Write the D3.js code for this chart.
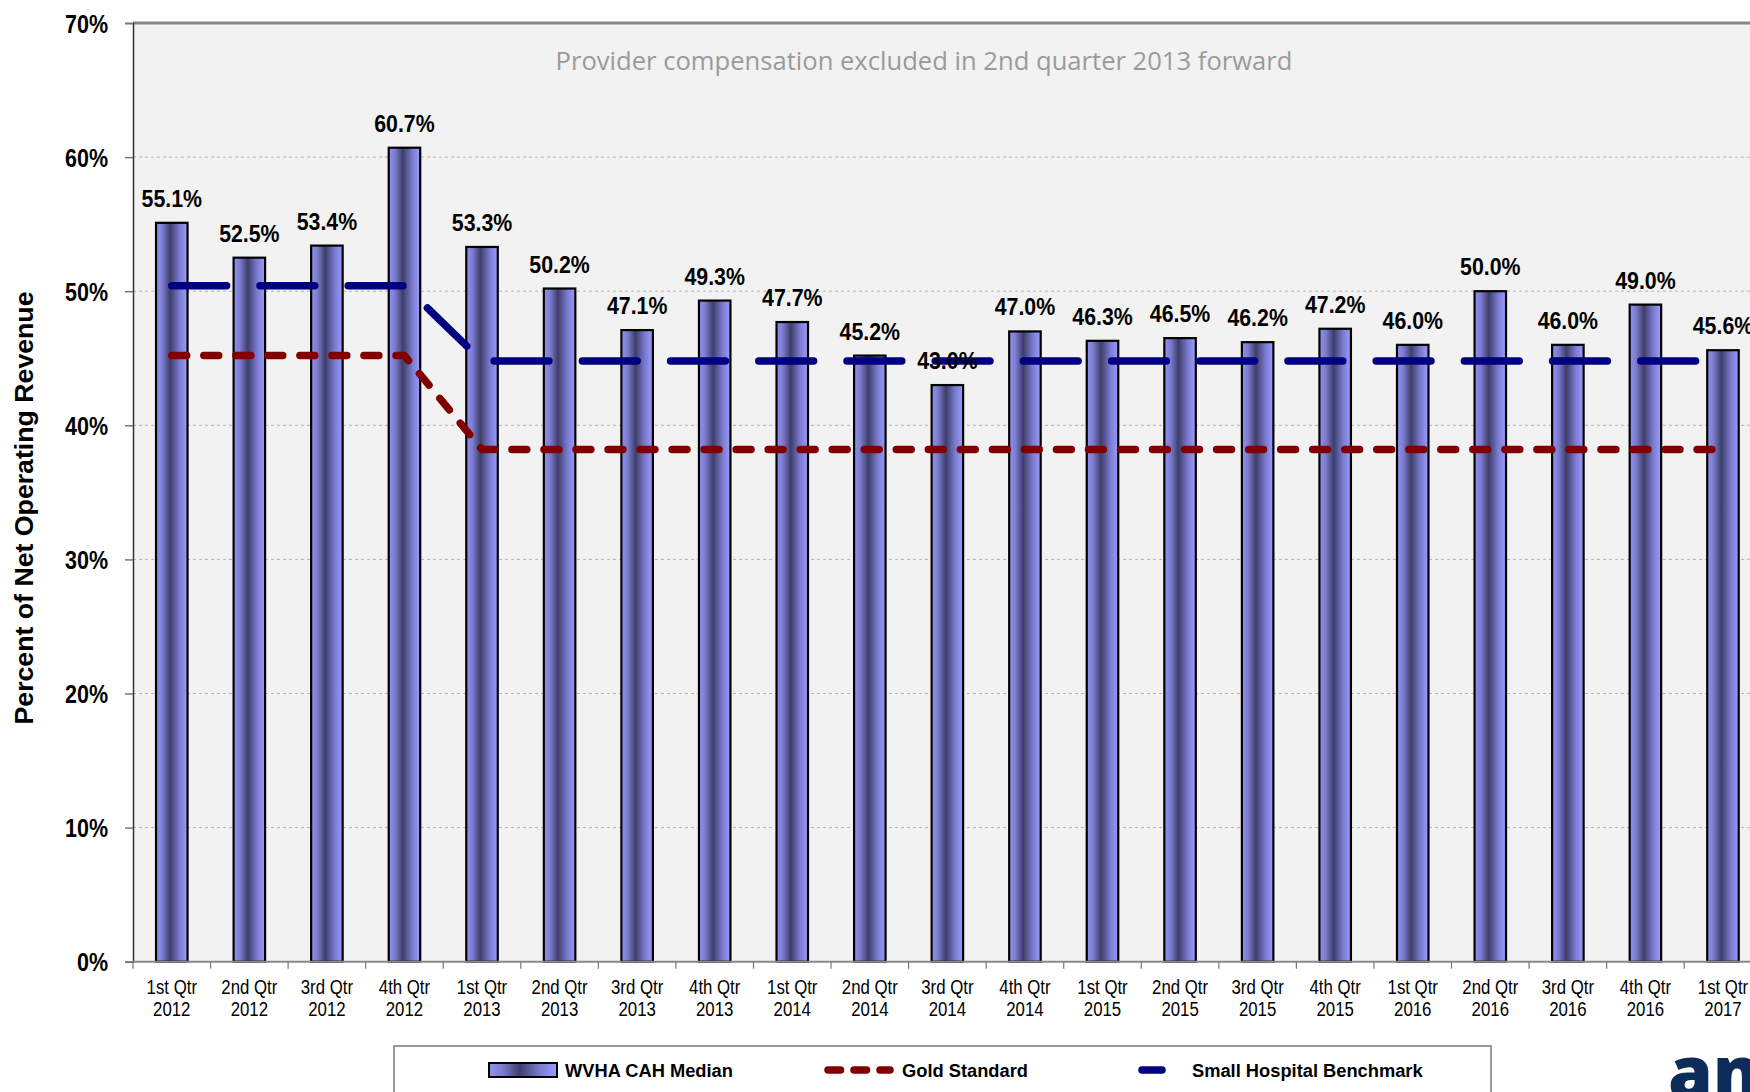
<!DOCTYPE html>
<html>
<head>
<meta charset="utf-8">
<script src="https://cdn.jsdelivr.net/npm/d3@7"></script>
<style>
  html, body { margin: 0; padding: 0; background: #ffffff; overflow: hidden; }
  svg { display: block; }
</style>
</head>
<body>
<svg id="chart" width="1750" height="1092"></svg>
<script>
// Quarterly periods shown on the x axis (two-line labels)
const quarters = ["1st Qtr", "2nd Qtr", "3rd Qtr", "4th Qtr", "1st Qtr", "2nd Qtr", "3rd Qtr", "4th Qtr",
                  "1st Qtr", "2nd Qtr", "3rd Qtr", "4th Qtr", "1st Qtr", "2nd Qtr", "3rd Qtr", "4th Qtr",
                  "1st Qtr", "2nd Qtr", "3rd Qtr", "4th Qtr", "1st Qtr"];
const years = ["2012", "2012", "2012", "2012", "2013", "2013", "2013", "2013",
               "2014", "2014", "2014", "2014", "2015", "2015", "2015", "2015",
               "2016", "2016", "2016", "2016", "2017"];

// WVHA CAH Median (percent of net operating revenue)
const median = [55.1, 52.5, 53.4, 60.7, 53.3, 50.2, 47.1, 49.3, 47.7, 45.2, 43.0,
                47.0, 46.3, 46.5, 46.2, 47.2, 46.0, 50.0, 46.0, 49.0, 45.6];
// Gold Standard
const gold = [45.2, 45.2, 45.2, 45.2, 38.2, 38.2, 38.2, 38.2, 38.2, 38.2, 38.2,
              38.2, 38.2, 38.2, 38.2, 38.2, 38.2, 38.2, 38.2, 38.2, 38.2];
// Small Hospital Benchmark
const benchmark = [50.4, 50.4, 50.4, 50.4, 44.8, 44.8, 44.8, 44.8, 44.8, 44.8, 44.8,
                   44.8, 44.8, 44.8, 44.8, 44.8, 44.8, 44.8, 44.8, 44.8, 44.8];

const yTicks = [0, 10, 20, 30, 40, 50, 60, 70];
const seriesNames = ["WVHA CAH Median", "Gold Standard", "Small Hospital Benchmark"];
const note = "Provider compensation excluded in 2nd quarter 2013 forward";
const yTitle = "Percent of Net Operating Revenue";

const categories = quarters.map((q, i) => i);

const svg = d3.select("#chart");
const W = 1750, H = 1092;

const plotLeft = 133, plotTop = 23, plotBottom = 961.7;
const step = 77.56;
const plotRight = plotLeft + step * categories.length;

const x = d3.scaleBand()
  .domain(categories)
  .range([plotLeft, plotRight])
  .paddingInner(0.594)
  .paddingOuter(0.297);

const y = d3.scaleLinear().domain([0, 70]).range([plotBottom, plotTop]);
const cx = i => x(i) + x.bandwidth() / 2;

const SANS = "'Liberation Sans', Arial, sans-serif";
// Condensed text: regular sans squeezed horizontally
const narrow = (sel, sx) => sel.attr("transform", function (d) {
  return `translate(${this.__px},${this.__py}) scale(${sx},1)`;
});

// Bar gradient (light - dark - light, left to right)
const defs = svg.append("defs");
const grad = defs.append("linearGradient").attr("id", "barGrad")
  .attr("x1", "0%").attr("x2", "100%").attr("y1", "0%").attr("y2", "0%");
[[0, "#9292f2"], [0.2, "#7c7cd0"], [0.45, "#3e3e6a"], [0.75, "#7b7bd2"], [1, "#9c9cff"]]
  .forEach(([o, c]) => grad.append("stop").attr("offset", o).attr("stop-color", c));

// Plot background
svg.append("rect")
  .attr("x", plotLeft).attr("y", plotTop)
  .attr("width", W - plotLeft).attr("height", plotBottom - plotTop)
  .attr("fill", "#f2f2f2");

// Gridlines
svg.append("g").selectAll("line")
  .data(yTicks.filter(t => t > 0 && t < 70))
  .join("line")
  .attr("x1", plotLeft).attr("x2", W)
  .attr("y1", d => y(d)).attr("y2", d => y(d))
  .attr("stroke", "#b4b4b4").attr("stroke-width", 1)
  .attr("stroke-dasharray", "3,3");

// Top border of plot area
svg.append("line")
  .attr("x1", plotLeft).attr("x2", W)
  .attr("y1", plotTop).attr("y2", plotTop)
  .attr("stroke", "#858585").attr("stroke-width", 3);

// Bars
svg.append("g").selectAll("rect")
  .data(median)
  .join("rect")
  .attr("x", (d, i) => x(i))
  .attr("y", d => y(d))
  .attr("width", x.bandwidth())
  .attr("height", d => plotBottom - y(d))
  .attr("fill", "url(#barGrad)")
  .attr("stroke", "#000")
  .attr("stroke-width", 2.2);

// Benchmark and gold standard lines
const line = d3.line().x((d, i) => cx(i)).y(d => y(d));

svg.append("path")
  .datum(gold)
  .attr("d", line)
  .attr("fill", "none")
  .attr("stroke", "#800000")
  .attr("stroke-width", 7.5)
  .attr("stroke-linecap", "round")
  .attr("stroke-linejoin", "round")
  .attr("stroke-dasharray", "14.9,17.13");

svg.append("path")
  .datum(benchmark)
  .attr("d", line)
  .attr("fill", "none")
  .attr("stroke", "#000080")
  .attr("stroke-width", 7.5)
  .attr("stroke-linecap", "round")
  .attr("stroke-linejoin", "round")
  .attr("stroke-dasharray", "54.8,33.4");

// Value labels
svg.append("g").selectAll("text")
  .data(median)
  .join("text")
  .each(function (d, i) { this.__px = cx(i); this.__py = y(d) - 16; })
  .attr("text-anchor", "middle")
  .attr("font-family", SANS)
  .attr("font-weight", "bold")
  .attr("font-size", 24.5)
  .attr("fill", "#000")
  .text(d => d.toFixed(1) + "%")
  .call(narrow, 0.87);

// Y axis
const yAxis = d3.axisLeft(y)
  .tickValues(yTicks)
  .tickSize(8)
  .tickPadding(17)
  .tickFormat(d => d + "%");
const gy = svg.append("g").attr("transform", `translate(${plotLeft},0)`).call(yAxis);
gy.select(".domain").attr("stroke", "#333").attr("stroke-width", 1.5);
gy.selectAll(".tick line").attr("stroke", "#777").attr("stroke-width", 1.5);
gy.selectAll(".tick text")
  .attr("font-family", SANS)
  .attr("font-weight", "bold")
  .attr("font-size", 25)
  .attr("fill", "#000")
  .attr("dy", "0.36em")
  .each(function () { this.__px = -25; this.__py = 0; this.removeAttribute("x"); })
  .call(narrow, 0.86);

// X axis baseline and tick marks between categories
svg.append("line")
  .attr("x1", plotLeft).attr("x2", W)
  .attr("y1", plotBottom).attr("y2", plotBottom)
  .attr("stroke", "#8a8a8a").attr("stroke-width", 2);
svg.append("g").selectAll("line")
  .data(categories)
  .join("line")
  .attr("x1", d => cx(d) - x.step() / 2).attr("x2", d => cx(d) - x.step() / 2)
  .attr("y1", plotBottom).attr("y2", plotBottom + 7)
  .attr("stroke", "#777").attr("stroke-width", 1.2);

// X labels
const xl = svg.append("g").selectAll("text")
  .data(categories)
  .join("text")
  .each(function (d) { this.__px = cx(d); this.__py = 993.5; })
  .attr("text-anchor", "middle")
  .attr("font-family", SANS)
  .attr("font-size", 21)
  .attr("fill", "#000")
  .call(narrow, 0.8);
xl.append("tspan").attr("x", 0).attr("y", 0).text(d => quarters[d]);
xl.append("tspan").attr("x", 0).attr("y", 23).text(d => years[d]);

// Y axis title
svg.append("text")
  .attr("transform", "translate(33,508) rotate(-90)")
  .attr("text-anchor", "middle")
  .attr("font-family", SANS)
  .attr("font-weight", "bold")
  .attr("font-size", 26.7)
  .attr("fill", "#000")
  .text(yTitle);

// Note
svg.append("text")
  .attr("x", 924).attr("y", 70)
  .attr("text-anchor", "middle")
  .attr("font-family", "'Open Sans', sans-serif")
  .attr("font-size", 25.6)
  .attr("fill", "#9a9a9a")
  .text(note);

// Legend
const lg = svg.append("g");
lg.append("rect")
  .attr("x", 394).attr("y", 1046).attr("width", 1097).attr("height", 80)
  .attr("fill", "#fff").attr("stroke", "#7a7a7a").attr("stroke-width", 1.5);
lg.append("rect")
  .attr("x", 489).attr("y", 1063).attr("width", 68).attr("height", 14)
  .attr("fill", "url(#barGrad)").attr("stroke", "#000").attr("stroke-width", 2);
lg.append("line")
  .attr("x1", 828).attr("x2", 890).attr("y1", 1070).attr("y2", 1070)
  .attr("stroke", "#800000").attr("stroke-width", 7.5)
  .attr("stroke-linecap", "round").attr("stroke-dasharray", "12.5,13.5");
lg.append("line")
  .attr("x1", 1142).attr("x2", 1162).attr("y1", 1070).attr("y2", 1070)
  .attr("stroke", "#000080").attr("stroke-width", 7.5)
  .attr("stroke-linecap", "round");
const legendText = [[565, seriesNames[0]], [902, seriesNames[1]], [1192, seriesNames[2]]];
lg.selectAll("text.lt")
  .data(legendText)
  .join("text")
  .attr("class", "lt")
  .attr("x", d => d[0]).attr("y", 1077)
  .attr("font-family", SANS)
  .attr("font-weight", "bold")
  .attr("font-size", 18.3)
  .attr("fill", "#000")
  .text(d => d[1]);

// Corner logotype
svg.append("text")
  .attr("x", 1668).attr("y", 1098)
  .attr("font-family", "'Open Sans', sans-serif")
  .attr("font-weight", 800)
  .attr("font-size", 72)
  .attr("fill", "#0d2c5a")
  .text("am");
</script>
</body>
</html>
